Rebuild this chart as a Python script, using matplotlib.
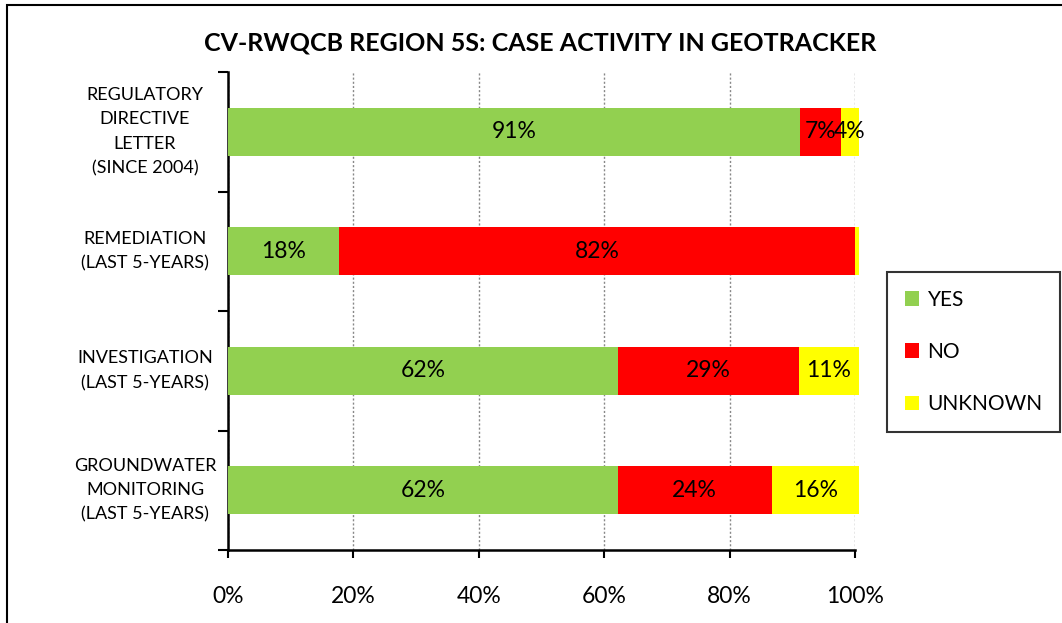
import matplotlib
matplotlib.use("Agg")
import matplotlib.pyplot as plt
from matplotlib.patches import Rectangle, Patch
from matplotlib.ticker import FuncFormatter
import matplotlib.transforms as mtransforms
import numpy as np

plt.rcParams['font.family'] = ['Lato', 'DejaVu Sans']

categories = ["REGULATORY\nDIRECTIVE\nLETTER\n(SINCE 2004)",
              "REMEDIATION\n(LAST 5-YEARS)",
              "INVESTIGATION\n(LAST 5-YEARS)",
              "GROUNDWATER\nMONITORING\n(LAST 5-YEARS)"]
yes_vals = [91.2, 17.7, 62.2, 62.2]
no_vals = [6.6, 82.3, 28.9, 24.5]
unknown_vals = [2.8, 0.6, 9.5, 13.9]
yes_labels = ["91%", "18%", "62%", "62%"]
no_labels = ["7%", "82%", "29%", "24%"]
unknown_labels = ["4%", "", "11%", "16%"]
series_names = ["YES", "NO", "UNKNOWN"]
colors = ["#92D050", "#FF0000", "#FFFF00"]
xticks = [0, 20, 40, 60, 80, 100]
title = "CV-RWQCB REGION 5S: CASE ACTIVITY IN GEOTRACKER"

W, H = 1062, 623
fig = plt.figure(figsize=(W/100, H/100), dpi=100)
ax = fig.add_axes([228/W, 1-550/H, (855-228)/W, (550-72)/H])

n = len(categories)
ypos = np.arange(n)
left = np.zeros(n)
for vals, labs, c, name in zip([yes_vals, no_vals, unknown_vals],
                               [yes_labels, no_labels, unknown_labels],
                               colors, series_names):
    vals = np.array(vals)
    bars = ax.barh(ypos, vals, left=left, height=0.4, color=c, label=name, zorder=3)
    for b, l in zip(bars, labs):
        b.set_clip_on(False)
        if l:
            ax.text(b.get_x() + b.get_width()/2, b.get_y() + b.get_height()/2, l,
                    ha='center', va='center', fontsize=16.5, zorder=4)
    left = left + vals

ax.set_xlim(0, 100)
ax.set_ylim(n - 0.5, -0.5)
ax.set_xticks(xticks)
ax.xaxis.set_major_formatter(FuncFormatter(lambda v, p: f"{int(v)}%"))
ax.tick_params(axis='x', labelsize=16.5, length=6, width=1.5, direction='out', pad=20)
ax.set_yticks(np.arange(-0.5, n, 1.0))
ax.set_yticklabels([])
ax.tick_params(axis='y', length=7, width=1.5, direction='out')
for s in ['top', 'right']:
    ax.spines[s].set_visible(False)
for s in ['left', 'bottom']:
    ax.spines[s].set_linewidth(1.8)
ax.xaxis.grid(True, linestyle=(0, (1.5, 1.5)), color='#888888', linewidth=1, zorder=0)
ax.yaxis.grid(False)
ax.set_axisbelow(True)

trans = mtransforms.blended_transform_factory(fig.transFigure, ax.transData)
for i, cat in enumerate(categories):
    fig.text(145/W, ypos[i], cat, transform=trans, ha='center', va='center',
             multialignment='center', fontsize=13, linespacing=1.65)

fig.text(540/W, 1-43/H, title, ha='center', va='center', fontsize=18, fontweight='bold')

handles = [Patch(facecolor=c, edgecolor='none') for c in colors]
leg = fig.legend(handles, series_names, loc='upper left',
                 bbox_to_anchor=(887/W, 1-272/H), frameon=True, fancybox=False,
                 fontsize=15, labelspacing=1.55, handlelength=0.7, handleheight=0.7,
                 handletextpad=0.4, borderpad=0.85, borderaxespad=0)
leg.get_frame().set_edgecolor('black')
leg.get_frame().set_linewidth(1.5)

fig.patches.append(Rectangle((7/W, -0.1), 1.2, 1 - 5/H + 0.1, transform=fig.transFigure,
                             fill=False, edgecolor='black', linewidth=1.5))

fig.savefig("out.png", dpi=100)
